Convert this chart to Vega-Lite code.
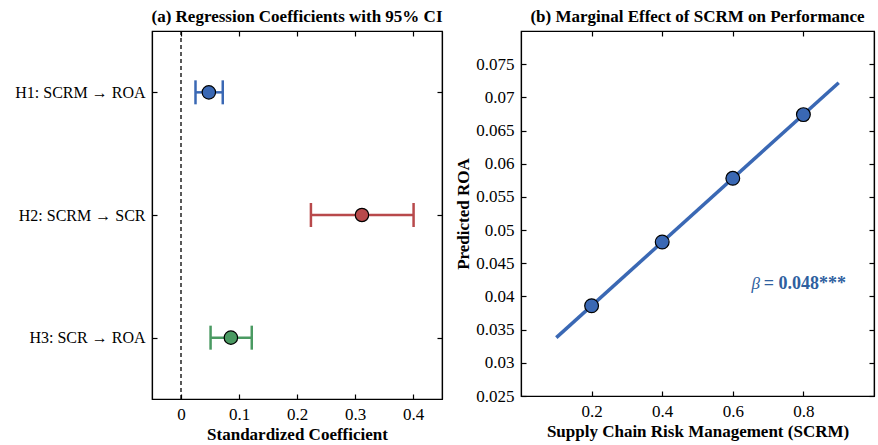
{
  "$schema": "https://vega.github.io/schema/vega-lite/v6.json",
  "padding": {"left": 14, "top": 7, "right": 5, "bottom": 0},
  "config": {
    "font": "Liberation Serif",
    "view": {"stroke": "black", "strokeWidth": 1.2},
    "axis": {
      "domainColor": "black", "tickColor": "black", "labelColor": "black", "titleColor": "black",
      "labelFont": "Liberation Serif", "titleFont": "Liberation Serif",
      "labelFontSize": 17, "titleFontSize": 17, "titleFontWeight": "bold",
      "grid": false, "tickSize": -5, "domainWidth": 1.2, "tickWidth": 1.2, "labelPadding": 12
    },
    "title": {"font": "Liberation Serif", "fontSize": 17, "fontWeight": "bold", "color": "black", "offset": 4},
    "concat": {"spacing": 10}
  },
  "hconcat": [
    {
      "title": "(a) Regression Coefficients with 95% CI",
      "width": 290,
      "height": 368,
      "data": {"values": [
        {"hyp": "H1: SCRM → ROA", "coef": 0.048, "lo": 0.025, "hi": 0.072},
        {"hyp": "H2: SCRM → SCR", "coef": 0.312, "lo": 0.224, "hi": 0.401},
        {"hyp": "H3: SCR → ROA", "coef": 0.086, "lo": 0.051, "hi": 0.122}
      ]},
      "resolve": {"axis": {"x": "independent", "y": "independent"}},
      "layer": [
        {
          "mark": {"type": "rule", "strokeWidth": 2.5},
          "encoding": {
            "x": {"field": "lo", "type": "quantitative", "scale": {"domain": [-0.05, 0.45]},
                  "axis": {"orient": "bottom", "values": [0, 0.1, 0.2, 0.3, 0.4], "format": ".1~f", "title": "Standardized Coefficient"}},
            "x2": {"field": "hi"},
            "y": {"field": "hyp", "type": "nominal", "scale": {"type": "point", "padding": 0.5},
                  "axis": {"orient": "left", "title": null, "labelFontSize": 16}},
            "color": {"field": "hyp", "type": "nominal", "legend": null,
                      "scale": {"range": ["#3a68b4", "#b8494b", "#4a9a62"]}}
          }
        },
        {
          "mark": {"type": "tick", "size": 24, "thickness": 2.5, "opacity": 1},
          "encoding": {
            "x": {"field": "lo", "type": "quantitative", "axis": null},
            "y": {"field": "hyp", "type": "nominal", "axis": null},
            "color": {"field": "hyp", "type": "nominal", "legend": null}
          }
        },
        {
          "mark": {"type": "tick", "size": 24, "thickness": 2.5, "opacity": 1},
          "encoding": {
            "x": {"field": "hi", "type": "quantitative", "axis": null},
            "y": {"field": "hyp", "type": "nominal", "axis": null},
            "color": {"field": "hyp", "type": "nominal", "legend": null}
          }
        },
        {
          "mark": {"type": "circle", "size": 180, "opacity": 1, "stroke": "black", "strokeWidth": 1.2},
          "encoding": {
            "x": {"field": "coef", "type": "quantitative", "axis": {"orient": "top", "labels": false, "title": null, "values": [0, 0.1, 0.2, 0.3, 0.4]}},
            "y": {"field": "hyp", "type": "nominal", "axis": {"orient": "right", "labels": false, "title": null}},
            "color": {"field": "hyp", "type": "nominal", "legend": null}
          }
        },
        {
          "data": {"values": [{}]},
          "mark": {"type": "rule", "strokeDash": [4, 3], "color": "black", "strokeWidth": 1.3},
          "encoding": {"x": {"datum": 0, "type": "quantitative", "axis": null}}
        }
      ]
    },
    {
      "title": "(b) Marginal Effect of SCRM on Performance",
      "width": 353,
      "height": 365,
      "resolve": {"axis": {"x": "independent", "y": "independent"}},
      "layer": [
        {
          "data": {"values": [{"scrm": 0.1, "roa": 0.0338}, {"scrm": 0.9, "roa": 0.0722}]},
          "mark": {"type": "line", "color": "#3a68b4", "strokeWidth": 3.5},
          "encoding": {
            "x": {"field": "scrm", "type": "quantitative", "scale": {"domain": [0.05, 0.95]},
                  "axis": {"orient": "bottom", "values": [0.2, 0.4, 0.6, 0.8], "format": ".1f", "title": "Supply Chain Risk Management (SCRM)"}},
            "y": {"field": "roa", "type": "quantitative", "scale": {"domain": [0.025, 0.08]},
                  "axis": {"orient": "left", "values": [0.025, 0.03, 0.035, 0.04, 0.045, 0.05, 0.055, 0.06, 0.065, 0.07, 0.075], "format": ".3~f", "title": "Predicted ROA", "titlePadding": 3}}
          }
        },
        {
          "data": {"values": [
            {"scrm": 0.2, "roa": 0.0386},
            {"scrm": 0.4, "roa": 0.0482},
            {"scrm": 0.6, "roa": 0.0578},
            {"scrm": 0.8, "roa": 0.0674}
          ]},
          "mark": {"type": "circle", "size": 190, "opacity": 1, "color": "#3a68b4", "stroke": "black", "strokeWidth": 1.2},
          "encoding": {
            "x": {"field": "scrm", "type": "quantitative", "axis": {"orient": "top", "labels": false, "title": null, "values": [0.2, 0.4, 0.6, 0.8]}},
            "y": {"field": "roa", "type": "quantitative", "axis": {"orient": "right", "labels": false, "title": null, "values": [0.025, 0.03, 0.035, 0.04, 0.045, 0.05, 0.055, 0.06, 0.065, 0.07, 0.075]}}
          }
        },
        {
          "data": {"values": [{}]},
          "mark": {"type": "text", "text": "β", "fontStyle": "italic", "fontSize": 17, "align": "right", "baseline": "middle", "color": "#2f5f9f"},
          "encoding": {
            "x": {"datum": 0.677, "type": "quantitative", "axis": null},
            "y": {"datum": 0.0419, "type": "quantitative", "axis": null}
          }
        },
        {
          "data": {"values": [{}]},
          "mark": {"type": "text", "text": "= 0.048***", "fontWeight": "bold", "fontSize": 18, "align": "left", "baseline": "middle", "color": "#2f5f9f"},
          "encoding": {
            "x": {"datum": 0.688, "type": "quantitative", "axis": null},
            "y": {"datum": 0.0419, "type": "quantitative", "axis": null}
          }
        }
      ]
    }
  ]
}
